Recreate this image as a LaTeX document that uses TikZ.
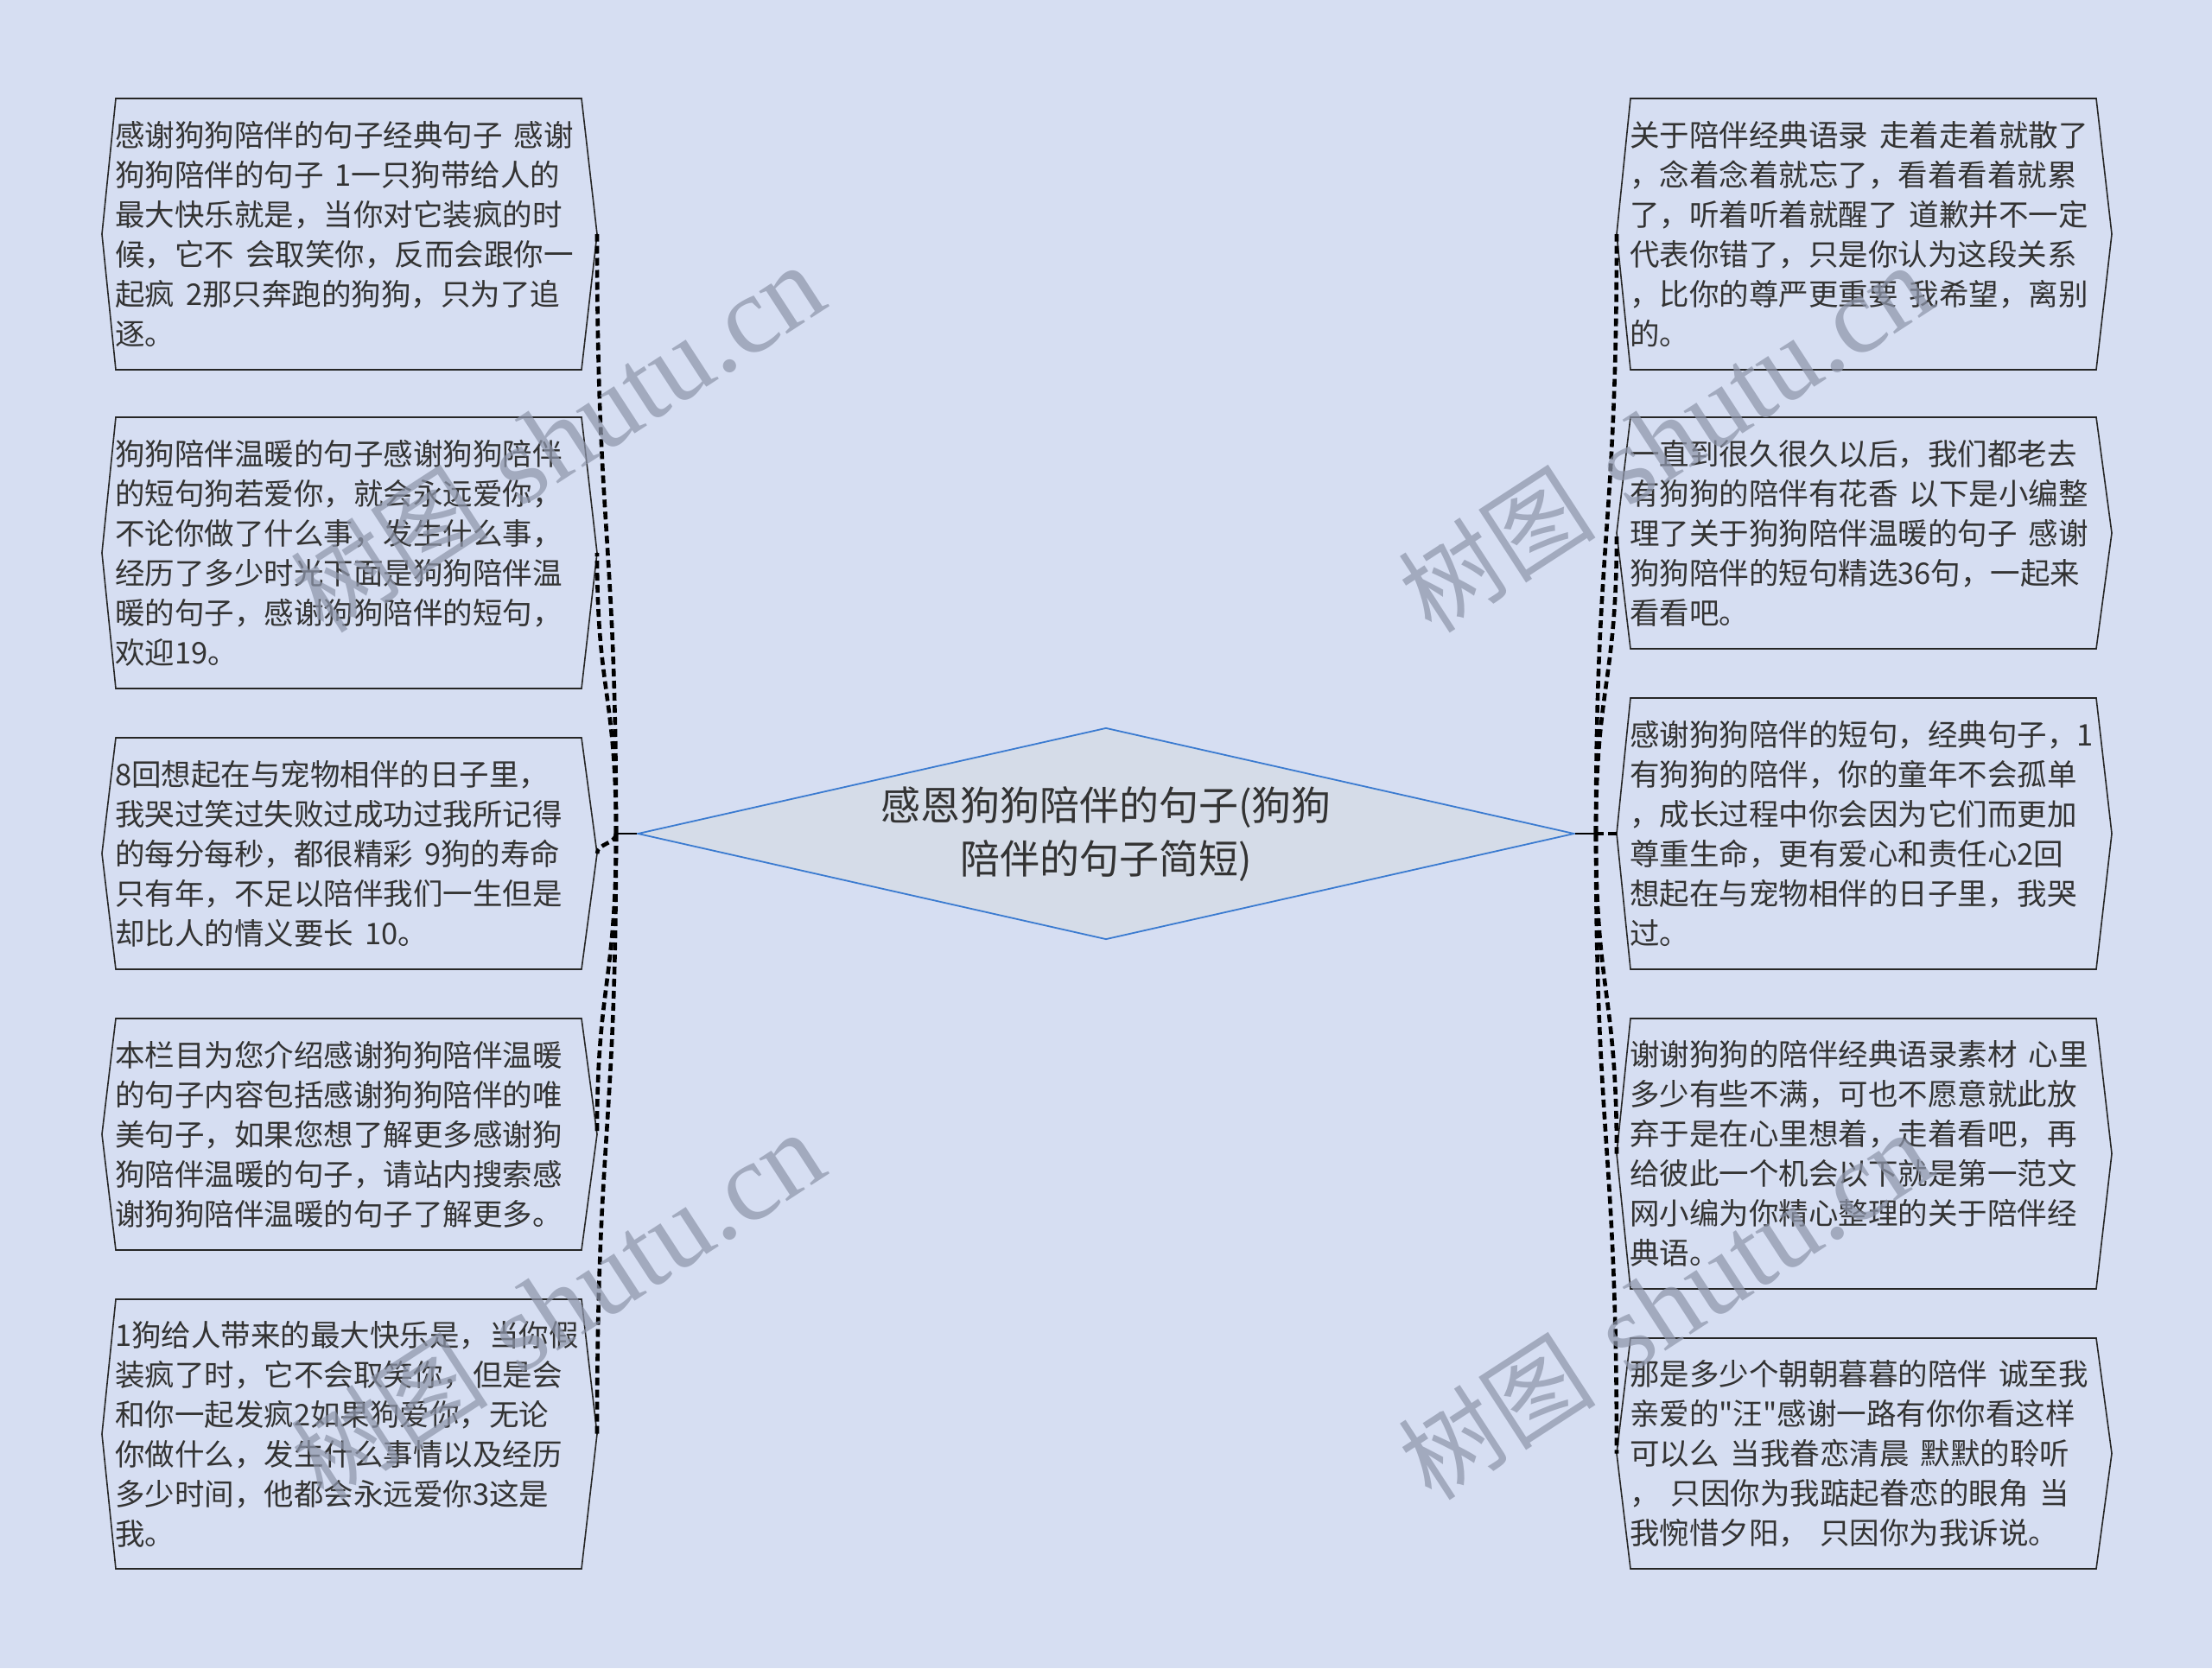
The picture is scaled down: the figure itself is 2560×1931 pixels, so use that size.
\documentclass[tikz,border=0pt]{standalone}
\usepackage{fontspec}
\setmainfont{Noto Sans CJK SC}[WordSpace=1.7, Ligatures=TeXOff]
\newfontfamily\wmserif{Liberation Serif}
\usetikzlibrary{calc,shapes.geometric}
\definecolor{bg}{HTML}{D6DEF2}
\definecolor{dfill}{HTML}{D5DCE8}
\definecolor{dline}{HTML}{3B7BD0}
\definecolor{txt}{HTML}{333333}
\definecolor{wmc}{HTML}{8E96AB}
\tikzset{
 boxline/.style={draw=black!85, line width=1.6pt, fill=bg, line join=miter},
 boxtext/.style={anchor=west, align=left, inner sep=0pt, outer sep=0pt, text=txt, font=\fontsize{34.5}{46}\selectfont},
 conn/.style={draw=black, line width=4.6pt, dash pattern=on 9pt off 5pt},
 stub/.style={draw=black, line width=2.4pt},
 centre/.style={diamond, draw=dline, fill=dfill, line width=1.8pt, minimum width=1084pt, minimum height=245pt, inner sep=0pt},
 ctext/.style={align=center, text=txt, font=\fontsize{46}{62}\selectfont, inner sep=0pt},
 wm/.style={text=wmc, text opacity=0.72, font=\fontsize{115}{115}\selectfont, inner sep=0pt}
}
\newcommand\mkbox[6]{%
 \pgfmathsetmacro\ymid{(#4+#5)/2}
 \path[boxline] (#2,#4) -- (#3,#4) -- ({#3+18},\ymid) -- (#3,#5) -- (#2,#5) -- ({#2-16},\ymid) -- cycle;
 \node[boxtext] (#1) at ({#2-1},\ymid) {#6};
 \coordinate (#1w) at ({#2-16},\ymid);
 \coordinate (#1e) at ({#3+18},\ymid);
}
\newcommand\wmtext{树图\hspace{0.35em}{\wmserif\fontsize{128}{128}\selectfont shutu.cn}}
\begin{document}
\begin{tikzpicture}[x=1pt,y=-1pt]
\fill[bg] (0,0) rectangle (2560,1931);
\useasboundingbox (0,0) rectangle (2560,1931);

% centre
\node[centre] (c) at (1280,965) {};
\node[ctext] (ct) at (1280,966) {感恩狗狗陪伴的句子(狗狗\\陪伴的句子简短)};

% left boxes
\mkbox{la}{134}{673}{114}{428}{感谢狗狗陪伴的句子经典句子 感谢\\狗狗陪伴的句子 1一只狗带给人的\\最大快乐就是，当你对它装疯的时\\候，它不 会取笑你，反而会跟你一\\起疯 2那只奔跑的狗狗，只为了追\\逐。}
\mkbox{lb}{134}{673}{483}{797}{狗狗陪伴温暖的句子感谢狗狗陪伴\\的短句狗若爱你，就会永远爱你，\\不论你做了什么事，发生什么事，\\经历了多少时光下面是狗狗陪伴温\\暖的句子，感谢狗狗陪伴的短句，\\欢迎19。}
\mkbox{lc}{134}{673}{854}{1122}{8回想起在与宠物相伴的日子里，\\我哭过笑过失败过成功过我所记得\\的每分每秒，都很精彩 9狗的寿命\\只有年，不足以陪伴我们一生但是\\却比人的情义要长 10。}
\mkbox{ld}{134}{673}{1179}{1447}{本栏目为您介绍感谢狗狗陪伴温暖\\的句子内容包括感谢狗狗陪伴的唯\\美句子，如果您想了解更多感谢狗\\狗陪伴温暖的句子，请站内搜索感\\谢狗狗陪伴温暖的句子了解更多。}
\mkbox{le}{134}{673}{1504}{1816}{1狗给人带来的最大快乐是，当你假\\装疯了时，它不会取笑你，但是会\\和你一起发疯2如果狗爱你，无论\\你做什么，发生什么事情以及经历\\多少时间，他都会永远爱你3这是\\我。}

% right boxes
\mkbox{ra}{1887}{2426}{114}{428}{关于陪伴经典语录 走着走着就散了\\，念着念着就忘了，看着看着就累\\了，听着听着就醒了 道歉并不一定\\代表你错了，只是你认为这段关系\\，比你的尊严更重要 我希望，离别\\的。}
\mkbox{rb}{1887}{2426}{483}{751}{一直到很久很久以后，我们都老去\\有狗狗的陪伴有花香 以下是小编整\\理了关于狗狗陪伴温暖的句子 感谢\\狗狗陪伴的短句精选36句，一起来\\看看吧。}
\mkbox{rc}{1887}{2426}{808}{1122}{感谢狗狗陪伴的短句，经典句子，1\\有狗狗的陪伴，你的童年不会孤单\\，成长过程中你会因为它们而更加\\尊重生命，更有爱心和责任心2回\\想起在与宠物相伴的日子里，我哭\\过。}
\mkbox{rd}{1887}{2426}{1179}{1492}{谢谢狗狗的陪伴经典语录素材 心里\\多少有些不满，可也不愿意就此放\\弃于是在心里想着，走着看吧，再\\给彼此一个机会以下就是第一范文\\网小编为你精心整理的关于陪伴经\\典语。}
\mkbox{re}{1887}{2426}{1549}{1816}{那是多少个朝朝暮暮的陪伴 诚至我\\亲爱的"汪"感谢一路有你你看这样\\可以么 当我眷恋清晨 默默的聆听\\， 只因你为我踮起眷恋的眼角 当\\我惋惜夕阳， 只因你为我诉说。}

% connectors
\coordinate (jl) at (713,965);
\coordinate (jr) at (1847,965);
\draw[stub] (c.west) -- (jl);
\draw[stub] (c.east) -- (jr);
\foreach \t in {la,lb,lc,ld,le}{
 \draw[conn] (jl) .. controls ($(jl)!0.5!(jl|-\t e)$) and ($(\t e)!0.5!(\t e|-jl)$) .. (\t e);
}
\foreach \t in {ra,rb,rc,rd,re}{
 \draw[conn] (jr) .. controls ($(jr)!0.5!(jr|-\t w)$) and ($(\t w)!0.5!(\t w|-jr)$) .. (\t w);
}

% watermarks
\node[wm, rotate=33] (w1) at (645,508) {\wmtext};
\node[wm, rotate=33] (w2) at (645,1512) {\wmtext};
\node[wm, rotate=33] (w3) at (1927,508) {\wmtext};
\node[wm, rotate=33] (w4) at (1927,1512) {\wmtext};
\end{tikzpicture}
\end{document}
